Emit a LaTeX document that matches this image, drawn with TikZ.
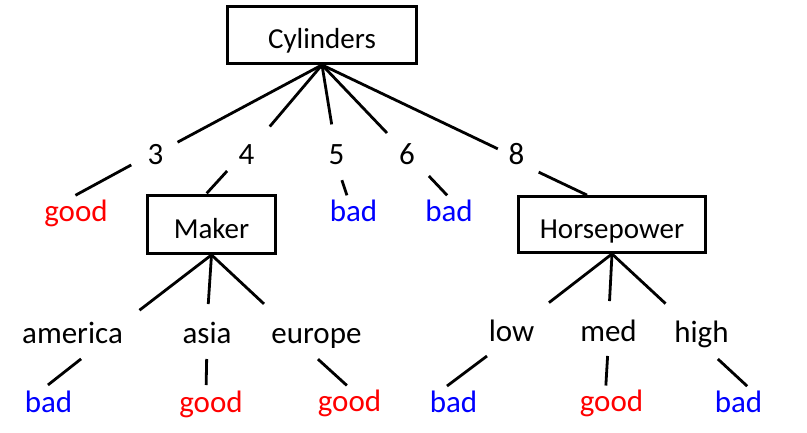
\documentclass[tikz,border=0pt]{standalone}
\usepackage{fontspec}
\setmainfont{Carlito}
\usepackage{xcolor}
\usepackage{tikz}

\begin{document}
\begin{tikzpicture}[x=1pt, y=-1pt,
    attrbox/.style={draw, rectangle, line width=2.8pt, font=\fontsize{29}{34}\selectfont, text height=27pt, text depth=0pt},
    vallbl/.style={inner sep=0pt, outer sep=0pt, anchor=base, font=\fontsize{31}{36}\selectfont, text height=20pt, text depth=0pt},
    leafgood/.style={vallbl, text=red},
    leafbad/.style={vallbl, text=blue},
    branch/.style={line width=2.8pt}]
    \useasboundingbox (0,0) rectangle (807,432);

    % split nodes
    \node[attrbox, minimum width=189pt, minimum height=57pt] (cyl) at (322,35) {Cylinders};
    \node[attrbox, minimum width=128pt, minimum height=58pt] (maker) at (211.5,224.5) {Maker};
    \node[attrbox, minimum width=187pt, minimum height=56pt] (hp) at (612,224.5) {Horsepower};

    % values of Cylinders
    \node[vallbl] (c3) at (155.5,164) {3};
    \node[vallbl] (c4) at (246.5,164) {4};
    \node[vallbl] (c5) at (336.5,164) {5};
    \node[vallbl] (c6) at (407,164) {6};
    \node[vallbl] (c8) at (516.5,164) {8};
    \node[leafgood] (c3leaf) at (76,221.5) {good};
    \node[leafbad] (c5leaf) at (353.5,221.5) {bad};
    \node[leafbad] (c6leaf) at (449,221.5) {bad};

    % values of Maker
    \node[vallbl] (mam) at (72.5,343) {america};
    \node[vallbl] (mas) at (207,343) {asia};
    \node[vallbl] (meu) at (316.5,343) {europe};
    \node[leafbad] (mamleaf) at (48.5,412) {bad};
    \node[leafgood] (masleaf) at (211,412) {good};
    \node[leafgood] (meuleaf) at (349.5,411.5) {good};

    % values of Horsepower
    \node[vallbl] (hlow) at (511.5,341) {low};
    \node[vallbl] (hmed) at (608.5,341) {med};
    \node[vallbl] (hhigh) at (701.5,342) {high};
    \node[leafbad] (hlowleaf) at (453.5,412) {bad};
    \node[leafgood] (hmedleaf) at (611.5,411.5) {good};
    \node[leafbad] (hhighleaf) at (738.5,412) {bad};

    % Cylinders branches
    \draw[branch, shorten >=25pt] (cyl.south) -- (c3.center);
    \draw[branch, shorten >=36pt] (cyl.south) -- (c4.center);
    \draw[branch, shorten >=30pt] (cyl.south) -- (c5.center);
    \draw[branch, shorten >=29pt] (cyl.south) -- (c6.center);
    \draw[branch, shorten >=12pt] (cyl.south) -- (c8.west);
    \draw[branch, shorten <=2pt, shorten >=13pt] ([xshift=-22.5pt]c3.south) -- ([xshift=-12pt]c3leaf.north);
    \draw[branch, shorten <=9.5pt, shorten >=1pt] ([xshift=-13pt]c4.south) -- ([xshift=-5.5pt]maker.north);
    \draw[branch, shorten <=17pt, shorten >=6.5pt] (c5.south) -- ([xshift=-4.5pt]c5leaf.north);
    \draw[branch, shorten <=16.5pt, shorten >=8.5pt] ([xshift=10.5pt]c6.south) -- ([xshift=4pt]c6leaf.north);
    \draw[branch, shorten <=19pt] ([xshift=5pt]c8.south) -- ([xshift=-25pt]hp.north);

    % Maker branches
    \draw[branch, shorten >=21pt] (maker.south) -- (mam.north east);
    \draw[branch, shorten >=19pt] (maker.south) -- (mas.north);
    \draw[branch, shorten >=28pt] (maker.south) -- ([xshift=13pt]meu.north west);
    \draw[branch, shorten <=25.7pt, shorten >=11.4pt] ([xshift=28.8pt]mam.south) -- ([xshift=-9.5pt]mamleaf.north);
    \draw[branch, shorten <=16pt, shorten >=7pt] (mas.south) -- ([xshift=-5pt]masleaf.north);
    \draw[branch, shorten <=24pt, shorten >=9pt] ([xshift=-16.3pt]meu.south) -- ([xshift=4pt]meuleaf.north);

    % Horsepower branches
    \draw[branch, shorten >=30pt] (hp.south) -- ([xshift=-9pt]hlow.north east);
    \draw[branch, shorten >=20pt] (hp.south) -- (hmed.north);
    \draw[branch, shorten >=27pt] (hp.south) -- ([xshift=11pt]hhigh.north west);
    \draw[branch, shorten <=25pt, shorten >=10pt] ([xshift=-4.5pt]hlow.south) -- ([xshift=-14.5pt]hlowleaf.north);
    \draw[branch, shorten <=15pt, shorten >=6pt] (hmed.south) -- ([xshift=-6pt]hmedleaf.north);
    \draw[branch, shorten <=25pt, shorten >=8.6pt] ([xshift=-2pt]hhigh.south) -- ([xshift=15pt]hhighleaf.north);
\end{tikzpicture}
\end{document}
